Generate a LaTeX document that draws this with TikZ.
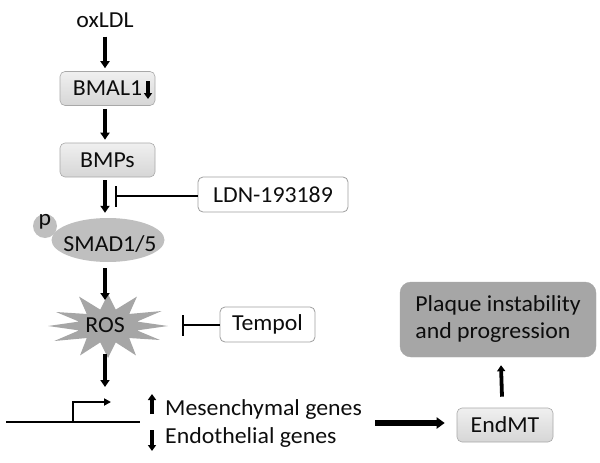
\documentclass[tikz,border=0pt]{standalone}
\usepackage{fontspec}
\setmainfont{Carlito}[FakeStretch=1.04]
\usetikzlibrary{arrows.meta,calc,shapes.geometric}
\definecolor{txt}{HTML}{0D0D0D}
\definecolor{boxline}{HTML}{A8A8A8}
\definecolor{dark}{HTML}{A6A6A6}
\definecolor{mid}{HTML}{BFBFBF}
\begin{document}
\begin{tikzpicture}[x=1pt,y=-1pt,
  every node/.style={text=txt,font=\fontsize{22.9}{27}\selectfont,inner sep=0pt},
  graybox/.style={draw=boxline,line width=0.6pt,rounded corners=5pt,top color=gray!12,bottom color=gray!32,minimum width=95pt,minimum height=34pt},
  whitebox/.style={draw=gray!75,line width=0.8pt,rounded corners=5pt,fill=white,minimum height=35pt},
  arr/.style={line width=3.6pt,-{Triangle[length=7pt,width=9pt]}},
  smallarr/.style={line width=3.8pt,-{Triangle[length=6pt,width=8pt]}},
  inh/.style={line width=2pt,-{Bar[width=21pt,line width=2.4pt]}},
]
\useasboundingbox (0,0) rectangle (600,463);
\coordinate (spine) at (105,0);

\node (oxldl) at (105,20) {oxLDL};
\node[graybox] (bmal) at (107.5,88.5) {BMAL1};
\node[graybox] (bmps) at (107.5,160) {BMPs};
\node[whitebox,minimum width=150pt] (ldn) at (273,194.5) {LDN-193189};
\node[ellipse,fill=mid,minimum width=113pt,minimum height=44pt] (smad) at (108,240) {};
\node[circle,fill=mid,minimum size=24pt] (p) at (45,226) {};
\node at (45,222) {p};
\node (smadt) at (110,244) {SMAD1/5};

% ROS star
\fill[dark] (108,326) ++(0:60pt and 5pt)
  \foreach \a/\r/\s in {15/30/17,30/62/30,45/30/17,60/58/34,75/30/17,90/10/32,105/30/17,120/58/34,135/30/17,150/60/28,165/30/17,180/60/8,195/30/17,210/62/30,225/30/17,240/56/34,255/30/17,270/12/32,285/30/17,300/56/34,315/30/17,330/60/28,345/30/17}
  { -- ($(108,326)+(\a:\r pt and \s pt)$) } -- cycle;
\node (ros) at (105,325) {ROS};
\node[whitebox,minimum width=95pt] (tempol) at (267.5,324.5) {Tempol};

% gene
\coordinate (g1) at (6,422);
\coordinate (g2) at (140,422);
\coordinate (pr) at (73,422);
\coordinate (prt) at (111,402);
\draw[line width=2.4pt] (g1) -- (g2);
\draw[line width=2pt,-{Triangle[length=7pt,width=7pt]}] (pr) |- (prt);

\node[anchor=base west] (mes) at (165,415) {Mesenchymal genes};
\node[anchor=base west] (endo) at (165,443) {Endothelial genes};
\coordinate (upa) at (152,414);
\coordinate (upb) at (152,394);
\coordinate (dna) at (152,430);
\coordinate (dnb) at (152,451);
\draw[smallarr] (upa) -- (upb);
\draw[smallarr] (dna) -- (dnb);

\node[graybox,minimum width=96pt] (endmt) at (505,425) {EndMT};
\node[draw=dark,fill=dark,rounded corners=11pt,minimum width=196pt,minimum height=75pt,align=left] (plaque) at (498,319.5) {Plaque instability\\and progression};

% BMAL1 down arrow
\coordinate (ba) at (148,81);
\coordinate (bb) at (148,99);
\draw[smallarr] (ba) -- (bb);

% connectors
\draw[arr] (oxldl.south -| spine) ++(0,9) -- ($(bmal.north -| spine)+(0,-3)$);
\draw[arr] ($(bmal.south -| spine)+(0,3)$) -- ($(bmps.north -| spine)+(0,-3)$);
\draw[arr] ($(bmps.south -| spine)+(0,3)$) -- ($(smad.north -| spine)+(0,-5)$);
\draw[arr] ($(smad.south -| spine)+(0,6)$) -- (105,300);
\draw[arr] (105,354) -- ($(g2 -| spine)+(0,-35)$);
\draw[inh] (ldn.west |- 0,196) -- (115,196);
\draw[inh] (tempol.west |- 0,325) -- (182,325);
\draw[line width=6pt,-{Triangle[length=8pt,width=11pt]}] (375,423) -- ($(endmt.west)+(-12,-2)$);
\draw[smallarr] ($(endmt.north)+(-3,-11)$) -- ($(plaque.south)+(3,8)$);
\end{tikzpicture}
\end{document}
